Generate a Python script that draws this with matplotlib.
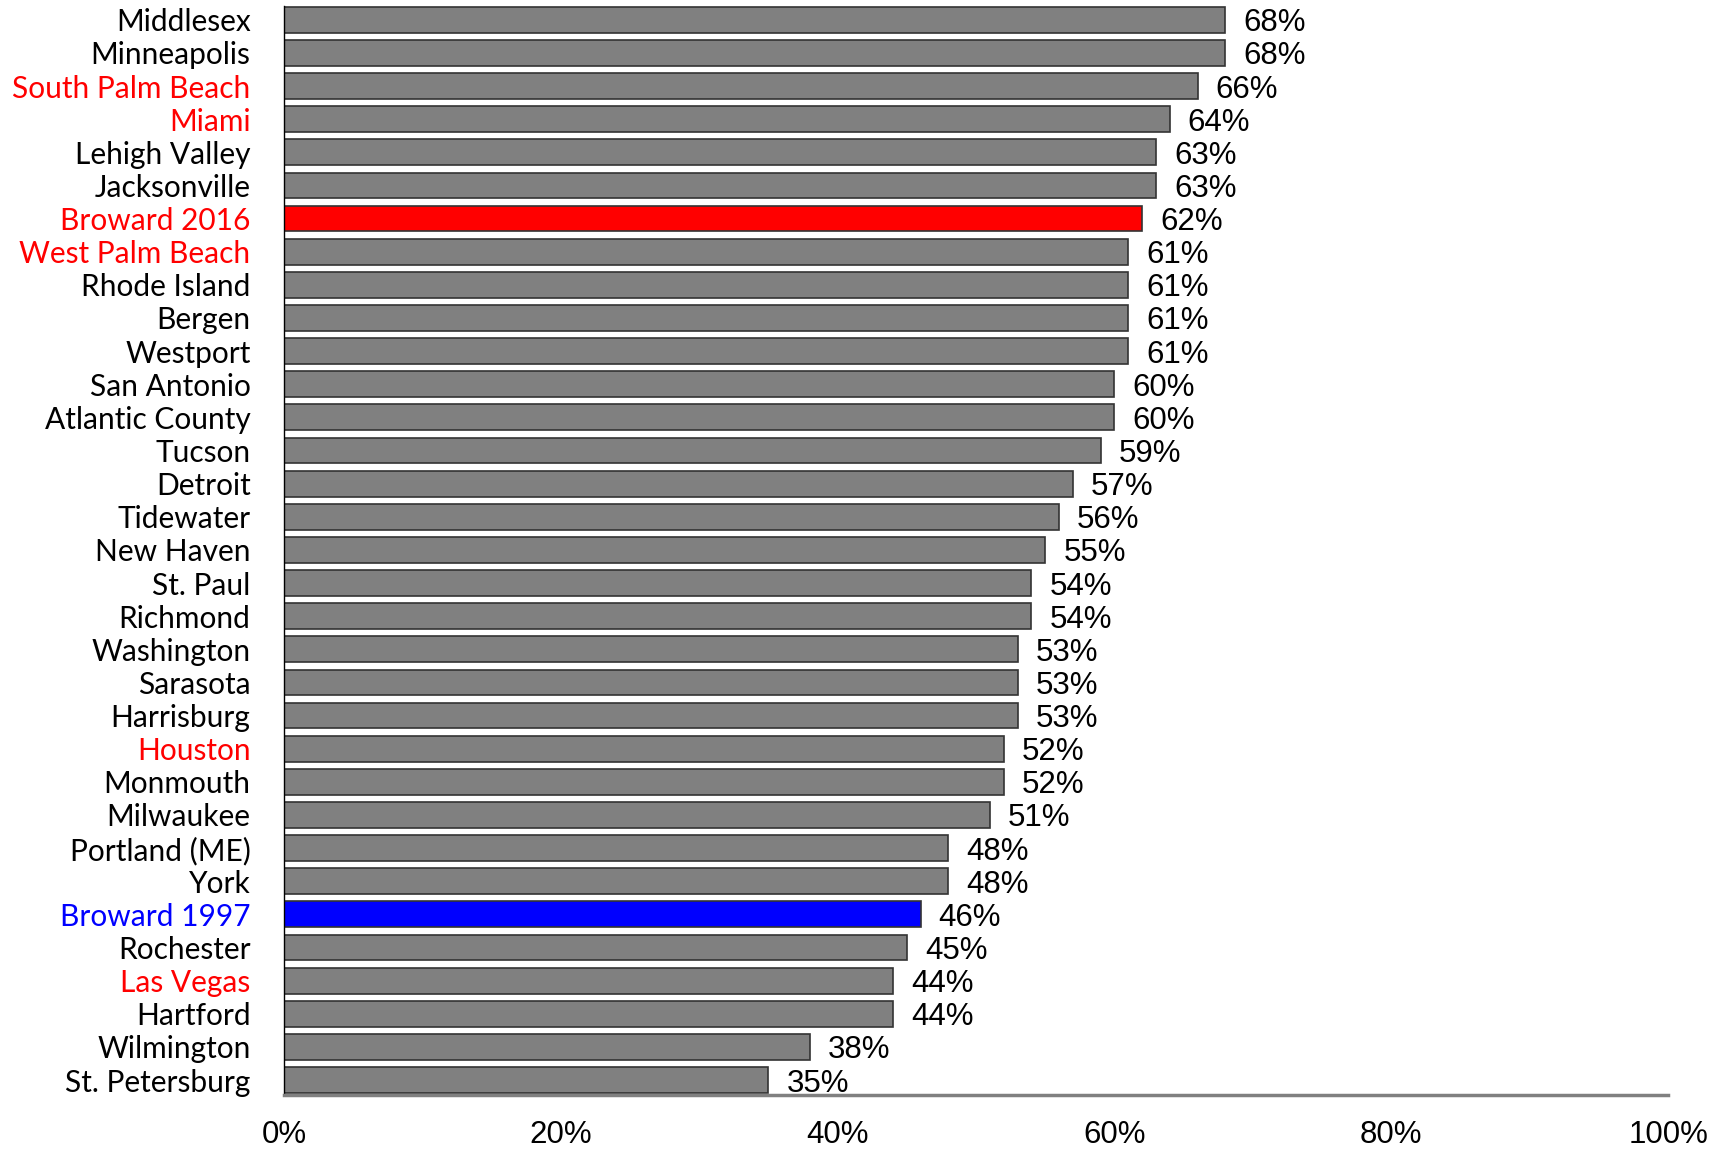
import matplotlib
matplotlib.use("Agg")
import matplotlib.pyplot as plt
from matplotlib.ticker import FuncFormatter

# --- data ---------------------------------------------------------
sites = [
    "Middlesex", "Minneapolis", "South Palm Beach", "Miami", "Lehigh Valley",
    "Jacksonville", "Broward 2016", "West Palm Beach", "Rhode Island", "Bergen",
    "Westport", "San Antonio", "Atlantic County", "Tucson", "Detroit",
    "Tidewater", "New Haven", "St. Paul", "Richmond", "Washington",
    "Sarasota", "Harrisburg", "Houston", "Monmouth", "Milwaukee",
    "Portland (ME)", "York", "Broward 1997", "Rochester", "Las Vegas",
    "Hartford", "Wilmington", "St. Petersburg",
]
values = [
    68, 68, 66, 64, 63, 63, 62, 61, 61, 61, 61, 60, 60, 59, 57, 56,
    55, 54, 54, 53, 53, 53, 52, 52, 51, 48, 48, 46, 45, 44, 44, 38, 35,
]
red_sites = ["South Palm Beach", "Miami", "Broward 2016", "West Palm Beach",
             "Houston", "Las Vegas"]
blue_sites = ["Broward 1997"]
x_ticks = [0, 20, 40, 60, 80, 100]

# --- styling helpers ---------------------------------------------
def label_color(name):
    if name in blue_sites:
        return "#0000FF"
    if name in red_sites:
        return "#FF0000"
    return "black"

def bar_color(name):
    if name == "Broward 2016":
        return "#FF0000"
    if name == "Broward 1997":
        return "#0000FF"
    return "#808080"

# --- figure -------------------------------------------------------
fig = plt.figure(figsize=(17.26, 11.51), dpi=100)
ax = fig.add_axes([0.1645, 0.0487, 0.802, 0.9465])

n = len(sites)
pos = list(range(n))
ax.barh(pos, values, height=0.78,
        color=[bar_color(s) for s in sites],
        edgecolor="#333333", linewidth=1.2)

for y, v in zip(pos, values):
    ax.text(v + 1.3, y, f"{v}%", va="center_baseline", ha="left",
            fontsize=22.5, family="Liberation Sans")

ax.set_ylim(n - 1 + 0.45, -0.43)
ax.set_xlim(0, 100)
ax.set_yticks(pos)
ax.set_yticklabels(sites, fontsize=21.5, family="Lato")
for lbl, s in zip(ax.get_yticklabels(), sites):
    lbl.set_color(label_color(s))

ax.set_xticks(x_ticks)
ax.xaxis.set_major_formatter(FuncFormatter(lambda v, _: f"{v:.0f}%"))
for lbl in ax.get_xticklabels():
    lbl.set_fontsize(22.5)
    lbl.set_family("Liberation Sans")

ax.tick_params(axis="both", length=0)
ax.tick_params(axis="y", pad=24)
ax.tick_params(axis="x", pad=18)

ax.spines["top"].set_visible(False)
ax.spines["right"].set_visible(False)
ax.spines["left"].set_color("black")
ax.spines["left"].set_linewidth(1.0)
ax.spines["bottom"].set_color("#808080")
ax.spines["bottom"].set_linewidth(2.5)

fig.savefig("out.png", dpi=100)
